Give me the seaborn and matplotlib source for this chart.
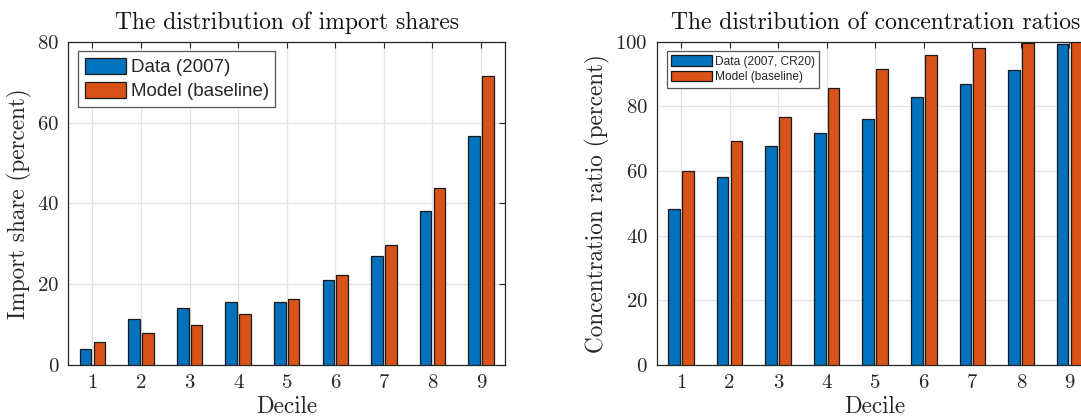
import matplotlib
matplotlib.use("Agg")
import matplotlib.pyplot as plt
import seaborn as sns
import pandas as pd

# Deciles shown on both panels
deciles = ["1", "2", "3", "4", "5", "6", "7", "8", "9"]

# Import shares (percent)
import_data = [4.0, 11.3, 14.1, 15.6, 15.6, 21.1, 26.9, 38.1, 56.7]
import_model = [5.7, 7.8, 10.0, 12.6, 16.4, 22.2, 29.6, 43.9, 71.6]

# Concentration ratios (percent)
conc_data = [48.2, 58.0, 67.6, 71.8, 76.0, 83.0, 86.8, 91.1, 99.3]
conc_model = [60.0, 69.2, 76.8, 85.8, 91.6, 96.0, 98.2, 99.5, 100.0]

left_labels = ["Data (2007)", "Model (baseline)"]
right_labels = ["Data (2007, CR20)", "Model (baseline)"]

BLUE = "#0072BD"
ORANGE = "#D95319"

sns.set_style("white")
plt.rcParams["font.family"] = ["cmr10"]
plt.rcParams["axes.formatter.use_mathtext"] = True


def long_frame(data, model, labels):
    return pd.DataFrame({
        "Decile": deciles * 2,
        "value": list(data) + list(model),
        "series": [labels[0]] * len(deciles) + [labels[1]] * len(deciles),
    })


fig = plt.figure(figsize=(10.81, 4.19), dpi=100)
ax_l = fig.add_axes([0.0631, 0.1289, 0.4043, 0.7716])
ax_r = fig.add_axes([0.6075, 0.1289, 0.4043, 0.7716])

panels = [
    (ax_l, long_frame(import_data, import_model, left_labels), left_labels,
     (0, 80), [0, 20, 40, 60, 80], "Import share (percent)",
     "The distribution of import shares", 13.5),
    (ax_r, long_frame(conc_data, conc_model, right_labels), right_labels,
     (0, 100), [0, 20, 40, 60, 80, 100], "Concentration ratio (percent)",
     "The distribution of concentration ratios", 8.6),
]

for ax, df, labels, ylim, yticks, ylabel, title, leg_fs in panels:
    sns.barplot(data=df, x="Decile", y="value", hue="series",
                hue_order=labels, palette=[BLUE, ORANGE],
                width=0.57, gap=0.16, edgecolor="#1a1a1a", linewidth=0.9,
                saturation=1, ax=ax, zorder=3)
    ax.set_xlim(-0.5, len(deciles) - 0.5)
    ax.set_ylim(*ylim)
    ax.set_yticks(yticks)
    ax.set_axisbelow(True)
    ax.grid(True, color="#e3e3e3", linewidth=0.9, zorder=0)
    for s in ax.spines.values():
        s.set_visible(True)
        s.set_color("#262626")
        s.set_linewidth(0.9)
    ax.tick_params(axis="both", direction="in", length=4, width=0.8,
                   top=True, right=True, labelsize=15, colors="#262626",
                   pad=6.5)
    for lab in ax.get_xticklabels() + ax.get_yticklabels():
        lab.set_color("#262626")
    ax.set_xlabel("Decile", fontsize=16.7, color="#262626", labelpad=3)
    ax.set_ylabel(ylabel, fontsize=16.7, color="#262626", labelpad=4)
    ax.set_title(title, fontsize=17, color="#111111", pad=9)

    leg = ax.legend(loc="upper left", bbox_to_anchor=(0.023, 0.971),
                    borderaxespad=0, frameon=True, fancybox=False,
                    framealpha=1, edgecolor="#555555",
                    prop={"family": "Liberation Sans", "size": leg_fs},
                    handlelength=2.2 if leg_fs > 10 else 3.4,
                    handleheight=0.95, labelspacing=0.3,
                    handletextpad=0.25, borderpad=0.35)
    leg.get_frame().set_linewidth(0.9)
    for h in leg.legend_handles:
        h.set_edgecolor("#1a1a1a")

fig.savefig("out.png", dpi=100)
